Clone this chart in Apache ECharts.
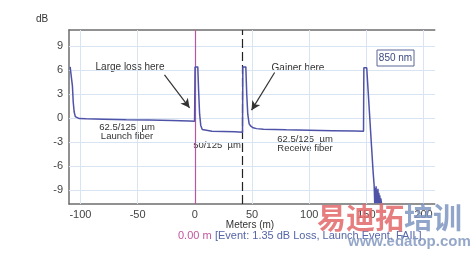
<!DOCTYPE html>
<html><head><meta charset="utf-8">
<script src="https://cdn.jsdelivr.net/npm/echarts@6/dist/echarts.min.js"></script>
<style>html,body{margin:0;padding:0;background:#fff}#c{width:470px;height:253px}</style>
</head><body><div id="c"></div>
<script>
// Trace (OTDR) data: distance in meters, level in dB
const traceMeters = [-109,-107.8,-107,-106.3,-105.5,-104.5,-103,-101,-95,-80,-60,-40,-20,-5,-0.2,
  0.2,2.6,3.3,4.2,5.2,6.5,8,15,25,35,41.7,
  42.0,44.6,45.4,46.3,47.5,49,51,54,60,80,100,120,140,147.5,
  147.8,150.3,151.5,153,154.5,155.8,156.8,157.3,157.7,158.1,158.5,158.9,159.3,159.7,160.1,160.5,160.9,161.3,161.7,162.1,162.6,163.2];
const traceDb = [6.4,6.4,4.0,2.0,0.8,0.2,0.0,-0.05,-0.08,-0.12,-0.18,-0.22,-0.28,-0.35,-0.38,
  6.4,6.4,3.5,0.5,-0.9,-1.4,-1.55,-1.62,-1.66,-1.7,-1.75,
  6.4,6.4,3.0,0.5,-0.7,-1.0,-1.2,-1.3,-1.38,-1.45,-1.5,-1.55,-1.6,-1.62,
  6.3,6.3,3.5,0.0,-3.5,-6.5,-8.4,-10.6,-8.7,-10.6,-8.5,-10.6,-9.0,-10.6,-8.8,-10.6,-9.3,-10.6,-9.6,-10.6,-10.0,-10.6];

const xTicks = [-100,-50,0,50,100,150,200];
const yTicks = [-9,-6,-3,0,3,6,9];
const xRange = [-110, 210];
const yRange = [-10.7, 11];
const eventMarker = 0;      // magenta cursor (m)
const gainerMarker = 41.8;  // dashed marker (m)

const FONT = 'Liberation Sans, Arial, sans-serif';
const chart = echarts.init(document.getElementById('c'));
const pts = traceMeters.map((m,i)=>[m, traceDb[i]]);
const arrowStyle = {color:'#333', width:1.2, type:'solid'};
const gridStyle = {color:'#d9e4f3', width:1, type:'solid'};

chart.setOption({
  animation:false,
  grid:{left:69, top:30, right:35, bottom:49, containLabel:false},
  xAxis:[{
    type:'value', min:xRange[0], max:xRange[1],
    axisLine:{show:true, onZero:false, lineStyle:{color:'#6d6d6d', width:1.5}},
    axisTick:{show:false, customValues:xTicks},
    axisLabel:{customValues:xTicks, color:'#444', fontSize:11, fontFamily:FONT, margin:5},
    splitLine:{show:false}
  },{
    type:'value', position:'top', min:xRange[0], max:xRange[1],
    axisLine:{show:true, onZero:false, lineStyle:{color:'#6d6d6d', width:1.5}},
    axisTick:{show:false}, axisLabel:{show:false}, splitLine:{show:false}
  }],
  yAxis:{
    type:'value', min:yRange[0], max:yRange[1],
    axisLine:{show:true, onZero:false, lineStyle:{color:'#6d6d6d', width:1.5}},
    axisTick:{show:false, customValues:yTicks},
    axisLabel:{customValues:yTicks, color:'#444', fontSize:11, fontFamily:FONT, margin:6},
    splitLine:{show:false}
  },
  series:[{
    type:'line', data:[], z:1, silent:true,
    markLine:{
      silent:true, symbol:'none', animation:false, label:{show:false}, lineStyle:gridStyle,
      data: xTicks.map(v=>({xAxis:v})).concat(yTicks.map(v=>({yAxis:v})))
    }
  },{
    type:'line', data:pts, showSymbol:false, symbol:'none',
    lineStyle:{color:'#4f53a8', width:1.5}, z:5,
    markLine:{
      silent:true, symbol:'none', animation:false,
      label:{show:false},
      data:[
        {xAxis:eventMarker, lineStyle:{color:'#b8579e', width:1.2, type:'solid'}},
        {xAxis:gainerMarker, lineStyle:{color:'#222', width:1.2, type:[9,4]}},
        [{coord:[-26.5,5.4], symbol:'none', lineStyle:arrowStyle},{coord:[-4.6,1.3], symbol:'arrow', symbolSize:[7,9]}],
        [{coord:[69.8,5.7], symbol:'none', lineStyle:arrowStyle},{coord:[49.6,1.0], symbol:'arrow', symbolSize:[7,9]}]
      ]
    }
  }],
  graphic:[
    {type:'rect', z:50, shape:{x:435.6, y:29, width:4, height:177}, style:{fill:'#fff'}},
    {type:'text', left:36, top:14, style:{text:'dB', font:'10px '+FONT, fill:'#333'}},
    {type:'text', x:130, y:67, style:{text:'Large loss here', font:'10px '+FONT, fill:'#333', align:'center', verticalAlign:'middle'}},
    {type:'text', x:298, y:68, style:{text:'Gainer here', font:'10px '+FONT, fill:'#333', align:'center', verticalAlign:'middle'}},
    {type:'text', x:127, y:127, style:{text:'62.5/125  µm', font:'9.5px '+FONT, fill:'#333', align:'center', verticalAlign:'middle'}},
    {type:'text', x:127, y:136, style:{text:'Launch fiber', font:'9.5px '+FONT, fill:'#333', align:'center', verticalAlign:'middle'}},
    {type:'text', x:217, y:145, style:{text:'50/125  µm', font:'9.5px '+FONT, fill:'#333', align:'center', verticalAlign:'middle'}},
    {type:'text', x:305, y:139, style:{text:'62.5/125  µm', font:'9.5px '+FONT, fill:'#333', align:'center', verticalAlign:'middle'}},
    {type:'text', x:305, y:148, style:{text:'Receive fiber', font:'9.5px '+FONT, fill:'#333', align:'center', verticalAlign:'middle'}},
    {type:'rect', shape:{x:377, y:50, width:37, height:16}, style:{fill:'#fff', stroke:'#5c6699', lineWidth:1}},
    {type:'text', x:395.5, y:58, style:{text:'850 nm', font:'10px '+FONT, fill:'#3c4a80', align:'center', verticalAlign:'middle'}},
    {type:'text', x:250, y:225, style:{text:'Meters (m)', font:'10px '+FONT, fill:'#333', align:'center', verticalAlign:'middle'}},
    {type:'text', x:178, y:236, style:{
      text:'{a|0.00 m} {b|[Event: 1.35 dB Loss, Launch Event, FAIL]}', verticalAlign:'middle',
      rich:{a:{font:'11px '+FONT, fill:'#c0569e'}, b:{font:'11px '+FONT, fill:'#5565a8'}}}},
    {type:'text', x:317, y:218, z:100, style:{
      text:'{r|易迪拓}{b|培训}', verticalAlign:'middle', opacity:0.85,
      rich:{r:{font:'bold 29px "Noto Sans CJK SC"', fill:'#e2676a'}, b:{font:'bold 29px "Noto Sans CJK SC"', fill:'#7d95bf'}}}},
    {type:'text', x:348, y:242, z:100, style:{text:'www.edatop.com', font:'bold 15px '+FONT, fill:'#8398c0', opacity:0.85, verticalAlign:'middle'}}
  ]
});
</script></body></html>
